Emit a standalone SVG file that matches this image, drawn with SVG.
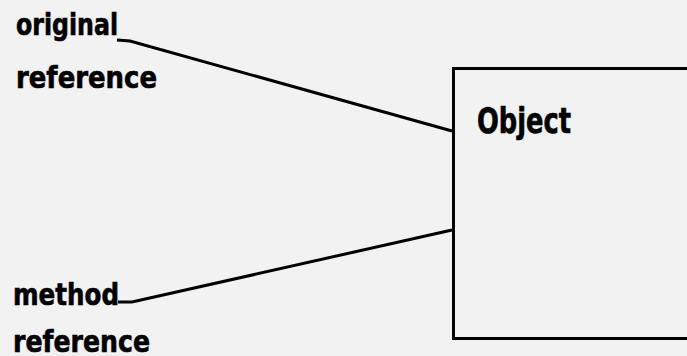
<svg xmlns="http://www.w3.org/2000/svg" width="687" height="356" viewBox="0 0 687 356">
<style>
text{font-family:"DejaVu Sans Condensed","DejaVu Sans",sans-serif;font-weight:bold;font-size:31px;fill:#000;stroke:#000;stroke-width:0.6}
.ln{stroke:#000;stroke-width:3;fill:none}
</style>
<rect width="687" height="356" fill="#f2f2f2"/>
<g id="original">
<text x="16" y="35" textLength="102" lengthAdjust="spacingAndGlyphs">original</text>
<text x="16" y="88" textLength="141" lengthAdjust="spacingAndGlyphs">reference</text>
</g>
<g id="method">
<text x="13" y="305" textLength="106" lengthAdjust="spacingAndGlyphs">method</text>
<text x="13" y="352" textLength="137" lengthAdjust="spacingAndGlyphs">reference</text>
</g>
<g id="object">
<path class="ln" d="M700 68.5 H453.5 V338.5 H700"/>
<text x="477" y="133" style="font-size:36px" textLength="94" lengthAdjust="spacingAndGlyphs">Object</text>
</g>
<g id="connectors">
<path class="ln" d="M117 40 L130 41 L452 131"/>
<path class="ln" d="M118 302 L132 302 L452 230"/>
</g>
</svg>
